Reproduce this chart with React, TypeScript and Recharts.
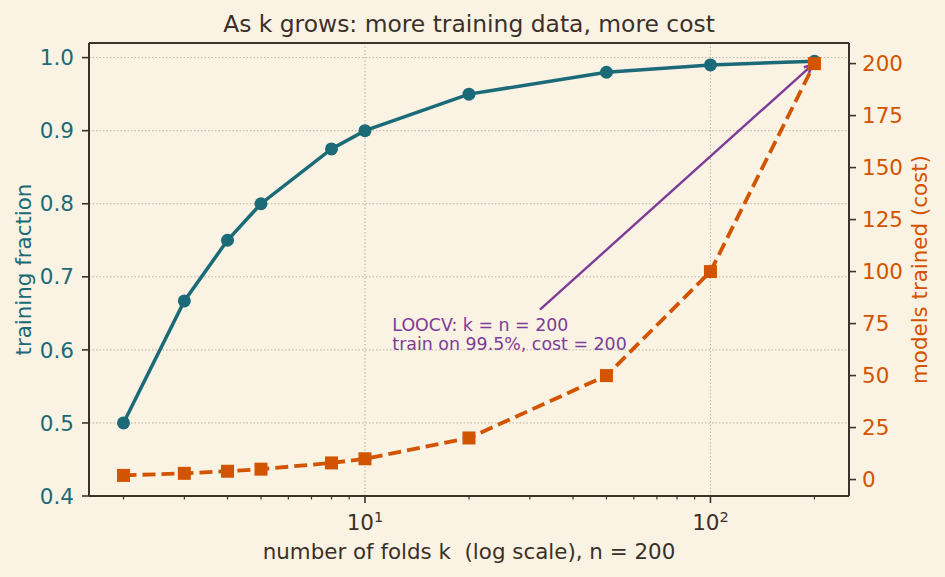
import React from 'react';
import { ComposedChart, Line, XAxis, YAxis, ReferenceLine, ReferenceDot } from 'recharts';

// ---- data ----
const kValues = [2, 3, 4, 5, 8, 10, 20, 50, 100, 200];
const trainingFraction = [0.5, 0.667, 0.75, 0.8, 0.875, 0.9, 0.95, 0.98, 0.99, 0.995];
const modelsTrained = [2, 3, 4, 5, 8, 10, 20, 50, 100, 200];

const xTicks = [2, 3, 4, 5, 6, 7, 8, 9, 10, 20, 30, 40, 50, 60, 70, 80, 90, 100, 200];
const xMajorTicks = [10, 100];
const leftTicks = [0.4, 0.5, 0.6, 0.7, 0.8, 0.9, 1.0];
const rightTicks = [0, 25, 50, 75, 100, 125, 150, 175, 200];
const xGridValues = [10, 100];
const yGridValues = [0.5, 0.6, 0.7, 0.8, 0.9, 1.0];

const xDomain = [1.589, 251.8];
const leftDomain = [0.4, 1.02];
const rightDomain = [-7.9, 209.9];

const titleText = 'As k grows: more training data, more cost';
const xLabelText = 'number of folds k  (log scale), n = 200';
const leftLabelText = 'training fraction';
const rightLabelText = 'models trained (cost)';
const annotationLines = ['LOOCV: k = n = 200', 'train on 99.5%, cost = 200'];
const annotationTextPoint = { k: 12, fraction: 0.6 };
const arrowTail = { k: 32.1, cost: 81.7 };
const arrowTip = { k: 196.8, cost: 199.3 };

// ---- style ----
const W = 945;
const H = 577;
const BG = '#faf3e3';
const TEAL = '#1a6a78';
const ORANGE = '#d35400';
const PURPLE = '#7d3c98';
const INK = '#3a3029';
const SPINE = '#3d3229';
const GRID = '#b8b2a4';
const FONT = '"DejaVu Sans", Verdana, sans-serif';

const margin = { top: 43, right: 36, bottom: 31, left: 29 };
const yAxisWidth = 60;
const xAxisHeight = 50;
const plotLeft = margin.left + yAxisWidth;
const plotRight = W - margin.right - yAxisWidth;
const plotTop = margin.top;
const plotBottom = H - margin.bottom - xAxisHeight;
const plotCenterX = (plotLeft + plotRight) / 2;
const plotCenterY = (plotTop + plotBottom) / 2;

const data = kValues.map((k, i) => ({ k, fraction: trainingFraction[i], cost: modelsTrained[i] }));

const XTick = (props: any) => {
  const { x, y, payload } = props;
  const v = payload.value;
  const major = xMajorTicks.includes(v);
  const exp = Math.round(Math.log10(v));
  return (
    <g>
      <line x1={x} x2={x} y1={y} y2={y + (major ? 7 : 3.5)} stroke={SPINE} strokeWidth={major ? 1.6 : 1.2} />
      {major && (
        <text x={x} y={y + 34} textAnchor="middle" fontSize={21.5} fill={INK} fontFamily={FONT}>
          10
          <tspan dy={-8.5} fontSize={14.5}>{exp}</tspan>
        </text>
      )}
    </g>
  );
};

const SquareDot = (props: any) => {
  const { cx, cy } = props;
  if (cx == null || cy == null) return null;
  const s = 13;
  return <rect x={cx - s / 2} y={cy - s / 2} width={s} height={s} fill={ORANGE} stroke="none" />;
};

const ArrowShape = (props: any) => {
  const { x1, y1, x2, y2 } = props;
  if ([x1, y1, x2, y2].some((v) => v == null || isNaN(v))) return null;
  const ang = Math.atan2(y2 - y1, x2 - x1);
  const hl = 8.5;
  const hw = 0.47;
  const ax = x2 - hl * Math.cos(ang - hw);
  const ay = y2 - hl * Math.sin(ang - hw);
  const bx = x2 - hl * Math.cos(ang + hw);
  const by = y2 - hl * Math.sin(ang + hw);
  return (
    <g>
      <line x1={x1} y1={y1} x2={x2} y2={y2} stroke={PURPLE} strokeWidth={2.4} />
      <polyline points={`${ax},${ay} ${x2},${y2} ${bx},${by}`} fill="none" stroke={PURPLE} strokeWidth={2.6} />
    </g>
  );
};

const AnnotationText = (props: any) => {
  const { cx, cy } = props;
  if (cx == null || cy == null) return null;
  const lh = 19.3;
  return (
    <text x={cx} fontSize={17.4} fill={PURPLE} fontFamily={FONT}>
      {annotationLines.map((t, i) => (
        <tspan key={i} x={cx} y={cy - (annotationLines.length - 1 - i) * lh}>{t}</tspan>
      ))}
    </text>
  );
};

export default function App() {
  return (
    <div style={{ position: 'absolute', left: 0, top: 0, width: W, height: H, background: BG, fontFamily: FONT }}>
      <ComposedChart width={W} height={H} data={data} margin={margin}>
        {xGridValues.map((v) => (
          <ReferenceLine key={'gx' + v} x={v} yAxisId="left" stroke={GRID} strokeWidth={1} strokeDasharray="1.5 2" />
        ))}
        {yGridValues.map((v) => (
          <ReferenceLine key={'gy' + v} y={v} yAxisId="left" stroke={GRID} strokeWidth={1} strokeDasharray="1.5 2" />
        ))}
        <ReferenceLine y={leftDomain[1]} yAxisId="left" stroke={SPINE} strokeWidth={2} />
        <XAxis
          dataKey="k"
          type="number"
          scale="log"
          domain={xDomain}
          allowDataOverflow
          ticks={xTicks}
          interval={0}
          height={xAxisHeight}
          tickSize={0}
          tickMargin={0}
          tickLine={false}
          tick={<XTick />}
          axisLine={{ stroke: SPINE, strokeWidth: 2 }}
        />
        <YAxis
          yAxisId="left"
          orientation="left"
          domain={leftDomain}
          allowDataOverflow
          ticks={leftTicks}
          interval={0}
          width={yAxisWidth}
          tickSize={7}
          tickMargin={8}
          tickFormatter={(v: number) => v.toFixed(1)}
          tick={{ fill: TEAL, fontSize: 21.5, fontFamily: FONT }}
          tickLine={{ stroke: SPINE, strokeWidth: 1.6 }}
          axisLine={{ stroke: SPINE, strokeWidth: 2 }}
        />
        <YAxis
          yAxisId="right"
          orientation="right"
          domain={rightDomain}
          allowDataOverflow
          ticks={rightTicks}
          interval={0}
          width={yAxisWidth}
          tickSize={7}
          tickMargin={6}
          tick={{ fill: ORANGE, fontSize: 21.5, fontFamily: FONT }}
          tickLine={{ stroke: SPINE, strokeWidth: 1.6 }}
          axisLine={{ stroke: SPINE, strokeWidth: 2 }}
        />
        <Line
          yAxisId="left"
          dataKey="fraction"
          type="linear"
          stroke={TEAL}
          strokeWidth={3.5}
          dot={{ r: 6.5, fill: TEAL, stroke: TEAL, strokeWidth: 0 }}
          activeDot={false}
          isAnimationActive={false}
        />
        <ReferenceLine
          yAxisId="right"
          segment={[{ x: arrowTail.k, y: arrowTail.cost }, { x: arrowTip.k, y: arrowTip.cost }]}
          shape={<ArrowShape />}
        />
        <ReferenceDot
          yAxisId="left"
          x={annotationTextPoint.k}
          y={annotationTextPoint.fraction}
          shape={<AnnotationText />}
        />
        <Line
          yAxisId="right"
          dataKey="cost"
          type="linear"
          stroke={ORANGE}
          strokeWidth={3.8}
          strokeDasharray="13 6"
          dot={<SquareDot />}
          activeDot={false}
          isAnimationActive={false}
          {...({ zIndex: 700 } as any)}
        />
      </ComposedChart>
      <svg width={W} height={H} style={{ position: 'absolute', left: 0, top: 0, pointerEvents: 'none' }}>
        <text x={plotCenterX} y={32.3} textAnchor="middle" fontSize={23.4} fill={INK} fontFamily={FONT}>
          {titleText}
        </text>
        <text x={plotCenterX} y={559} textAnchor="middle" fontSize={21.4} fill={INK} fontFamily={FONT} style={{ whiteSpace: 'pre' }}>
          {xLabelText}
        </text>
        <text
          x={31}
          y={plotCenterY}
          textAnchor="middle"
          fontSize={21.4}
          fill={TEAL}
          fontFamily={FONT}
          transform={`rotate(-90 31 ${plotCenterY})`}
        >
          {leftLabelText}
        </text>
        <text
          x={927}
          y={plotCenterY}
          textAnchor="middle"
          fontSize={21.4}
          fill={ORANGE}
          fontFamily={FONT}
          transform={`rotate(-90 927 ${plotCenterY})`}
        >
          {rightLabelText}
        </text>
      </svg>
    </div>
  );
}
